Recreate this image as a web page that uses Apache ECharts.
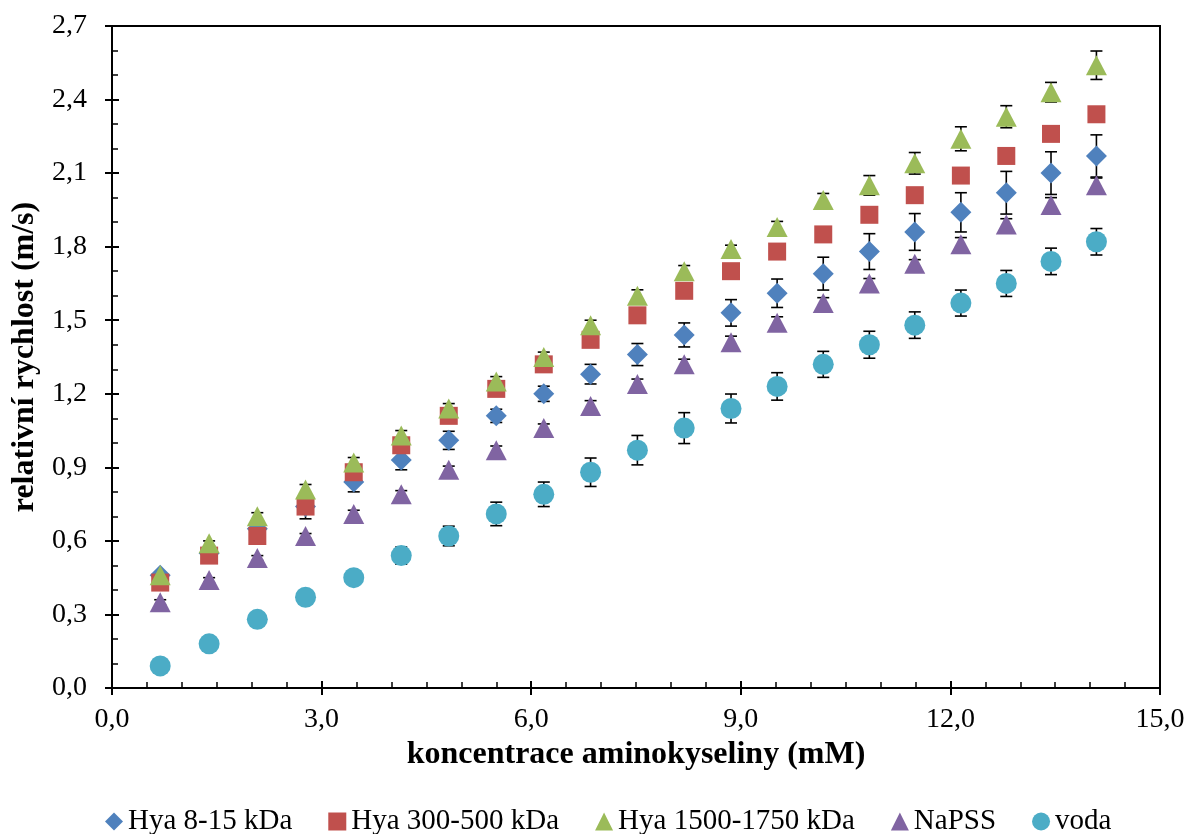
<!DOCTYPE html>
<html>
<head>
<meta charset="utf-8">
<script src="https://cdn.jsdelivr.net/npm/echarts@6/dist/echarts.min.js"></script>
<style>
  html, body { margin: 0; padding: 0; background: #fff; }
  #chart { width: 1189px; height: 834px; }
</style>
</head>
<body>
<div id="chart"></div>
<script>
// Amino acid concentration (mM)
const concentration = [0.69, 1.39, 2.08, 2.77, 3.46, 4.14, 4.82, 5.50, 6.18, 6.85, 7.52,
                       8.19, 8.86, 9.52, 10.18, 10.84, 11.49, 12.15, 12.80, 13.44, 14.09];

const seriesNames = ['Hya 8-15 kDa', 'Hya 300-500 kDa', 'Hya 1500-1750 kDa', 'NaPSS', 'voda'];

// Relative velocity (m/s)
const hya8_15 = [0.46, 0.55, 0.65, 0.74, 0.84, 0.93, 1.01, 1.11, 1.20, 1.28, 1.36,
                 1.44, 1.53, 1.61, 1.69, 1.78, 1.86, 1.94, 2.02, 2.10, 2.17];
const hya300_500 = [0.43, 0.54, 0.62, 0.74, 0.88, 0.99, 1.11, 1.22, 1.32, 1.42, 1.52,
                    1.62, 1.70, 1.78, 1.85, 1.93, 2.01, 2.09, 2.17, 2.26, 2.34];
const hya1500_1750 = [0.46, 0.59, 0.70, 0.81, 0.92, 1.03, 1.14, 1.25, 1.35, 1.48, 1.60,
                      1.70, 1.79, 1.88, 1.99, 2.05, 2.14, 2.24, 2.33, 2.43, 2.54];
const napss = [0.35, 0.44, 0.53, 0.62, 0.71, 0.79, 0.89, 0.97, 1.06, 1.15, 1.24,
               1.32, 1.41, 1.49, 1.57, 1.65, 1.73, 1.81, 1.89, 1.97, 2.05];
const voda = [0.09, 0.18, 0.28, 0.37, 0.45, 0.54, 0.62, 0.71, 0.79, 0.88, 0.97,
              1.06, 1.14, 1.23, 1.32, 1.40, 1.48, 1.57, 1.65, 1.74, 1.82];

// Standard deviations
const errHya8_15 = [0.01, 0.015, 0.02, 0.05, 0.04, 0.04, 0.037, 0.027, 0.031, 0.04, 0.045,
                    0.049, 0.054, 0.058, 0.067, 0.073, 0.075, 0.08, 0.087, 0.087, 0.086];
const errHya300_500 = [0.01, 0.01, 0.01, 0.015, 0.015, 0.015, 0.015, 0.015, 0.015, 0.015, 0.015,
                       0.015, 0.015, 0.015, 0.015, 0.015, 0.015, 0.015, 0.015, 0.015, 0.015];
const errHya1500_1750 = [0.01, 0.01, 0.015, 0.02, 0.02, 0.02, 0.02, 0.02, 0.02, 0.02, 0.024,
                         0.023, 0.016, 0.023, 0.027, 0.04, 0.044, 0.049, 0.045, 0.04, 0.058];
const errNapss = [0.01, 0.01, 0.01, 0.01, 0.015, 0.015, 0.015, 0.017, 0.017, 0.022, 0.02,
                  0.021, 0.025, 0.024, 0.022, 0.02, 0.017, 0.027, 0.024, 0.03, 0.03];
const errVoda = [0.01, 0.01, 0.015, 0.02, 0.025, 0.035, 0.04, 0.048, 0.05, 0.058, 0.06,
                 0.063, 0.059, 0.056, 0.053, 0.055, 0.054, 0.053, 0.053, 0.054, 0.054];

const xTicks = { min: 0, max: 15, interval: 3 };
const yTicks = { min: 0, max: 2.7, interval: 0.3 };

const values = [hya8_15, hya300_500, hya1500_1750, napss, voda];
const errors = [errHya8_15, errHya300_500, errHya1500_1750, errNapss, errVoda];
const colors = ['#4F81BD', '#C0504D', '#9BBB59', '#8064A2', '#4BACC6'];
const symbols = ['diamond', 'rect', 'triangle', 'triangle', 'circle'];
const symbolSizes = [[21, 21], [18, 18], [21, 20], [21, 20], [21, 21]];

const FONT = 'Liberation Serif';
const fmt = v => v.toFixed(1).replace('.', ',');

const chart = echarts.init(document.getElementById('chart'), null, { renderer: 'canvas' });

function errorBarRender(params, api) {
  const x = api.value(0), y = api.value(1), e = api.value(2);
  const top = api.coord([x, y + e]);
  const bot = api.coord([x, y - e]);
  const hw = 6;
  const style = { stroke: '#000', lineWidth: 1.6 };
  return {
    type: 'group',
    children: [
      { type: 'line', shape: { x1: top[0], y1: top[1], x2: bot[0], y2: bot[1] }, style },
      { type: 'line', shape: { x1: top[0] - hw, y1: top[1], x2: top[0] + hw, y2: top[1] }, style },
      { type: 'line', shape: { x1: bot[0] - hw, y1: bot[1], x2: bot[0] + hw, y2: bot[1] }, style }
    ]
  };
}

const series = [];
values.forEach((vals, i) => {
  series.push({
    type: 'custom',
    name: seriesNames[i] + ' err',
    renderItem: errorBarRender,
    data: concentration.map((c, k) => [c, vals[k], errors[i][k]]),
    z: 2,
    silent: true,
    tooltip: { show: false }
  });
});
values.forEach((vals, i) => {
  series.push({
    type: 'scatter',
    name: seriesNames[i],
    symbol: symbols[i],
    symbolSize: symbolSizes[i],
    itemStyle: { color: colors[i], opacity: 1 },
    data: concentration.map((c, k) => [c, vals[k]]),
    z: 3 + i
  });
});

const axisLine = { show: true, lineStyle: { color: '#000', width: 2 } };

chart.setOption({
  animation: false,
  backgroundColor: '#fff',
  textStyle: { fontFamily: FONT },
  grid: {
    left: 112, right: 29, top: 26, bottom: 146,
    outerBoundsMode: 'none',
    containLabel: false,
    show: true, borderColor: '#000', borderWidth: 2, backgroundColor: 'transparent'
  },
  legend: {
    data: seriesNames.map((n, i) => ({ name: n, icon: symbols[i] })),
    bottom: -7,
    left: 100,
    itemWidth: 18,
    itemHeight: 18,
    itemGap: 36,
    textStyle: { fontFamily: FONT, fontSize: 29, color: '#000' }
  },
  xAxis: [
    {
      type: 'value', ...xTicks,
      name: 'koncentrace aminokyseliny (mM)',
      nameLocation: 'middle', nameGap: 42,
      nameTextStyle: { fontFamily: FONT, fontSize: 32, fontWeight: 'bold', color: '#000' },
      axisLine,
      axisTick: { show: true, inside: true, length: 7, lineStyle: { color: '#000', width: 2 } },
      minorTick: { show: true, splitNumber: 6, length: 6, lineStyle: { color: '#000', width: 1.5 } },
      axisLabel: { formatter: fmt, fontFamily: FONT, fontSize: 28, color: '#000', margin: 18 },
      splitLine: { show: false }
    },
    {
      type: 'value', ...xTicks, position: 'bottom',
      axisLine: { show: false },
      axisTick: { show: true, inside: false, length: 7, lineStyle: { color: '#000', width: 2 } },
      axisLabel: { show: false },
      splitLine: { show: false }
    }
  ],
  yAxis: [
    {
      type: 'value', ...yTicks,
      name: 'relativní rychlost (m/s)',
      nameLocation: 'middle', nameGap: 68, nameRotate: 90,
      nameTextStyle: { fontFamily: FONT, fontSize: 32, fontWeight: 'bold', color: '#000' },
      axisLine,
      axisTick: { show: true, inside: true, length: 7, lineStyle: { color: '#000', width: 2 } },
      minorTick: { show: true, splitNumber: 3, length: 6, lineStyle: { color: '#000', width: 1.5 } },
      axisLabel: { formatter: fmt, fontFamily: FONT, fontSize: 28, color: '#000', margin: 25 },
      splitLine: { show: false }
    },
    {
      type: 'value', ...yTicks, position: 'left',
      axisLine: { show: false },
      axisTick: { show: true, inside: false, length: 7, lineStyle: { color: '#000', width: 2 } },
      axisLabel: { show: false },
      splitLine: { show: false }
    }
  ],
  series
});
</script>
</body>
</html>
